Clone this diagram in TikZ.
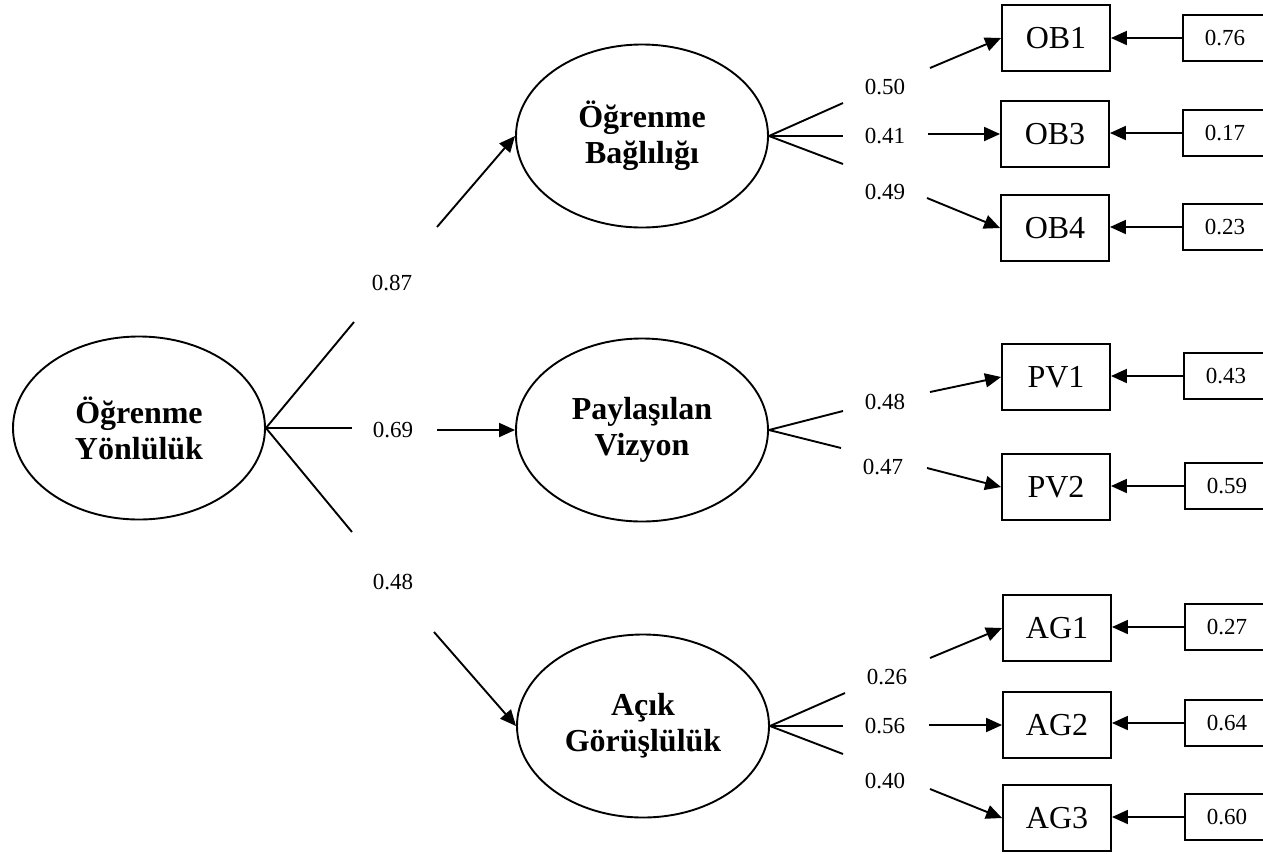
\documentclass[tikz,border=0pt]{standalone}
\usepackage{fontspec}
\setmainfont{Liberation Serif}
\usetikzlibrary{shapes.geometric,arrows.meta}
\begin{document}
\begin{tikzpicture}[x=0.5pt,y=-0.5pt,
  line width=0.95pt,
  latent/.style={ellipse,draw,minimum width=126pt,minimum height=91.5pt,inner sep=0pt,
    align=center,font=\fontsize{16}{18}\selectfont\bfseries},
  indicator/.style={rectangle,draw,minimum width=54pt,minimum height=33pt,inner sep=0pt,
    font=\fontsize{16}{18}\selectfont},
  errbox/.style={rectangle,draw,minimum width=42pt,minimum height=23pt,inner sep=0pt,
    font=\fontsize{11.5}{13}\selectfont},
  coef/.style={inner sep=0pt,font=\fontsize{11.5}{13}\selectfont},
  arr/.style={-{Triangle[length=8pt,width=7pt]}}]
\useasboundingbox (0,0) rectangle (1263,853);
\clip (0,0) rectangle (1263,853);

% latent variables
\node[latent] (OY)  at (139,428) {Öğrenme\\Yönlülük};
\node[latent] (OBL) at (642,136) {Öğrenme\\Bağlılığı};
\node[latent] (PV)  at (642,430) {Paylaşılan\\Vizyon};
\node[latent] (AG)  at (643,726) {Açık\\Görüşlülük};

% structural paths
\coordinate (s1a) at (354,322);
\coordinate (s2a) at (352,428);
\coordinate (s3a) at (352,532);
\coordinate (s1b) at (437,227);
\coordinate (s2b) at (437,430);
\coordinate (s3b) at (434,632);
\node[coef] (c1) at (392,283) {0.87};
\node[coef] (c2) at (393,430) {0.69};
\node[coef] (c3) at (393,582) {0.48};
\draw (OY.east) -- (s1a);
\draw (OY.east) -- (s2a);
\draw (OY.east) -- (s3a);
\draw[arr] (s1b) -- (OBL.west);
\draw[arr] (s2b) -- (PV.west);
\draw[arr] (s3b) -- (AG.west);

% indicators
\node[indicator] (OB1) at (1056,38)  {OB1};
\node[indicator] (OB3) at (1055,134) {OB3};
\node[indicator] (OB4) at (1055,228) {OB4};
\node[indicator] (PV1) at (1056,377) {PV1};
\node[indicator] (PV2) at (1056,487) {PV2};
\node[indicator] (AG1) at (1057,628) {AG1};
\node[indicator] (AG2) at (1057,725) {AG2};
\node[indicator] (AG3) at (1057,818) {AG3};

% error terms
\node[errbox] (e1) at (1225,38)  {0.76};
\node[errbox] (e2) at (1225,133) {0.17};
\node[errbox] (e3) at (1225,227) {0.23};
\node[errbox] (e4) at (1226,376) {0.43};
\node[errbox] (e5) at (1227,486) {0.59};
\node[errbox] (e6) at (1227,627) {0.27};
\node[errbox] (e7) at (1227,723) {0.64};
\node[errbox] (e8) at (1227,817) {0.60};
\foreach \e/\v in {e1/OB1,e2/OB3,e3/OB4,e4/PV1,e5/PV2,e6/AG1,e7/AG2,e8/AG3}
  \draw[arr] (\e.west) -- (\e.west -| \v.east);

% loadings: Öğrenme Bağlılığı
\coordinate (b1a) at (843,103);
\coordinate (b2a) at (843,136);
\coordinate (b3a) at (843,164);
\coordinate (b1b) at (930,68);
\coordinate (b2b) at (928,134);
\coordinate (b3b) at (927,198);
\node[coef] (cb1) at (885,87)  {0.50};
\node[coef] (cb2) at (885,136) {0.41};
\node[coef] (cb3) at (885,192) {0.49};
\draw (OBL.east) -- (b1a);
\draw (OBL.east) -- (b2a);
\draw (OBL.east) -- (b3a);
\draw[arr] (b1b) -- (OB1.west);
\draw[arr] (b2b) -- (OB3.west);
\draw[arr] (b3b) -- (OB4.west);

% loadings: Paylaşılan Vizyon
\coordinate (p1a) at (843,411);
\coordinate (p2a) at (841,448);
\coordinate (p1b) at (930,392);
\coordinate (p2b) at (927,468);
\node[coef] (cp1) at (885,402) {0.48};
\node[coef] (cp2) at (883,467) {0.47};
\draw (PV.east) -- (p1a);
\draw (PV.east) -- (p2a);
\draw[arr] (p1b) -- (PV1.west);
\draw[arr] (p2b) -- (PV2.west);

% loadings: Açık Görüşlülük
\coordinate (g1a) at (845,693);
\coordinate (g2a) at (843,726);
\coordinate (g3a) at (843,754);
\coordinate (g1b) at (930,658);
\coordinate (g2b) at (929,725);
\coordinate (g3b) at (930,789);
\node[coef] (cg1) at (887,677) {0.26};
\node[coef] (cg2) at (885,726) {0.56};
\node[coef] (cg3) at (885,781) {0.40};
\draw (AG.east) -- (g1a);
\draw (AG.east) -- (g2a);
\draw (AG.east) -- (g3a);
\draw[arr] (g1b) -- (AG1.west);
\draw[arr] (g2b) -- (AG2.west);
\draw[arr] (g3b) -- (AG3.west);
\end{tikzpicture}
\end{document}
